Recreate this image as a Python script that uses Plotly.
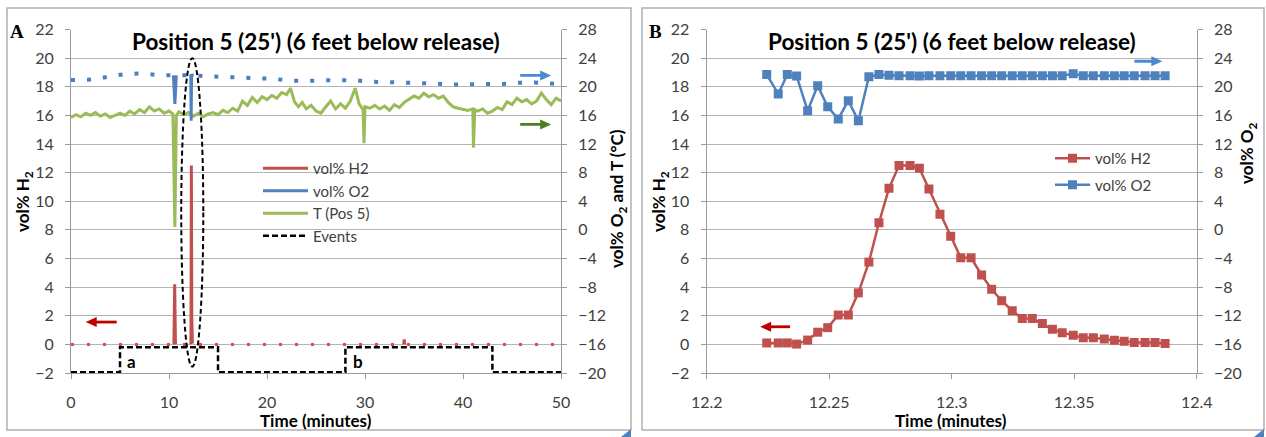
import plotly.graph_objects as go

# ---------------- Panel A data (0-50 min) ----------------
T_MIN = [0, 0.5, 1, 1.5, 2, 2.5, 3, 3.5, 4, 4.5, 5, 5.5, 6, 6.5, 7, 7.5, 8, 8.5, 9, 9.5,
         10, 10.4, 10.6, 10.75, 11, 11.5, 12, 12.5, 13, 13.5, 14, 14.5, 15, 15.5, 16, 16.5,
         17, 17.5, 18, 18.5, 19, 19.5, 20, 20.5, 21, 21.5, 22, 22.4, 22.8, 23.2, 23.6, 24,
         24.5, 25, 25.5, 26, 26.5, 27, 27.5, 28, 28.5, 29, 29.4, 29.8, 29.9, 30.0, 30.5, 31,
         31.5, 32, 32.5, 33, 33.5, 34, 34.5, 35, 35.5, 36, 36.5, 37, 37.5, 38, 38.5, 39, 39.5,
         40, 40.5, 41.0, 41.07, 41.2, 41.5, 42, 42.5, 43, 43.5, 44, 44.5, 45, 45.5, 46, 46.5,
         47, 47.5, 48, 48.5, 49, 49.5, 50]
T_C = [15.7, 16.1, 15.8, 16.3, 16.0, 16.4, 15.9, 16.2, 15.7, 16.0, 16.3, 16.0, 16.6, 16.2, 16.8,
       16.4, 17.2, 16.6, 16.9, 16.3, 16.6, 16.2, 0.4, 16.0, 16.5, 16.1, 16.4, 15.9, 16.3, 15.8,
       16.2, 16.4, 16.1, 16.7, 16.4, 17.0, 16.6, 18.0, 17.4, 18.5, 17.8, 18.6, 18.2, 18.8, 18.4,
       19.2, 18.9, 19.8, 17.9, 17.2, 17.8, 16.9, 17.4, 16.6, 16.3, 17.2, 18.0, 16.9, 17.6, 17.0,
       18.0, 19.8, 17.6, 16.8, 12.1, 17.2, 17.0, 17.4, 16.9, 17.3, 16.7, 17.5, 17.1, 17.8, 18.3,
       18.7, 18.4, 19.1, 18.6, 18.9, 18.4, 18.7, 17.8, 17.2, 17.0, 16.8, 16.7, 16.9, 11.5, 16.8,
       16.6, 16.9, 16.3, 16.6, 17.1, 16.8, 17.9, 17.5, 18.4, 17.9, 18.2, 17.6, 18.0, 19.1, 18.2,
       17.5, 18.4, 18.0]

O2_MIN = [0, 0.7, 2.25, 4.0, 5.6, 7.3, 9.0, 10.3, 12.0, 14.0, 15.6, 17.4, 19.0, 20.7, 22.3,
          24.0, 25.8, 27.4, 29.0, 30.6, 32.4, 34.0, 35.7, 37.3, 39.0, 40.7, 42.3, 44.0, 45.7,
          47.3, 49.0, 50]
O2_PCT = [20.95, 20.98, 21.0, 21.45, 21.8, 21.85, 21.6, 21.6, 21.6, 21.45, 21.35, 21.25, 21.2,
          21.1, 20.85, 20.8, 20.9, 20.95, 20.9, 20.7, 20.65, 20.6, 20.5, 20.45, 20.3, 20.3,
          20.4, 20.4, 20.55, 20.6, 20.45, 20.3]

H2_BASE_MIN = [0, 50]
H2_BASE_PCT = [0, 0]

H2_SPIKE1_MIN = [10.5, 10.58, 10.66]
H2_SPIKE1_PCT = [0, 4.2, 0]
H2_SPIKE3_MIN = [33.95, 34.0, 34.05]
H2_SPIKE3_PCT = [0, 0.35, 0]

O2_SPIKE1_MIN = [10.45, 10.6, 10.75]
O2_SPIKE1_PCT = [21.6, 17.6, 21.6]

EVENT_MIN = [0, 5, 5, 15, 15, 28, 28, 43, 43, 50]
EVENT_LEVEL = [-1.95, -1.95, -0.2, -0.2, -1.95, -1.95, -0.2, -0.2, -1.95, -1.95]

# ---------------- Panel B data (12.2-12.4 min) ----------------
B_MIN = [12.2245, 12.2292, 12.2329, 12.2367, 12.2412, 12.2453, 12.2494, 12.2537, 12.2578,
         12.2619, 12.2662, 12.2703, 12.2744, 12.2785, 12.2830, 12.2868, 12.2907, 12.2952,
         12.2996, 12.3037, 12.3079, 12.3122, 12.3163, 12.3204, 12.3247, 12.3288, 12.3329,
         12.3370, 12.3411, 12.3451, 12.3496, 12.3537, 12.3578, 12.3623, 12.3664, 12.3704,
         12.3745, 12.3789, 12.3830, 12.3871]
B_H2 = [0.10, 0.10, 0.10, 0.02, 0.30, 0.85, 1.17, 2.05, 2.05, 3.6, 5.75, 8.5, 10.9, 12.5, 12.5,
        12.3, 10.85, 9.1, 7.55, 6.05, 6.05, 4.85, 3.85, 3.05, 2.35, 1.8, 1.8, 1.45, 1.05, 0.82,
        0.63, 0.46, 0.46, 0.37, 0.28, 0.21, 0.13, 0.13, 0.13, 0.06]
B_O2 = [21.7, 19.0, 21.7, 21.5, 16.66, 20.15, 17.2, 15.5, 18.05, 15.26, 21.4, 21.7,
        21.6, 21.55, 21.55, 21.5, 21.55, 21.55, 21.55, 21.55, 21.55, 21.55, 21.55, 21.55,
        21.55, 21.55, 21.55, 21.55, 21.55, 21.55, 21.8, 21.55, 21.55, 21.55, 21.55, 21.55,
        21.55, 21.55, 21.55, 21.55]

X_A_TICKS = [0, 10, 20, 30, 40, 50]
X_B_TICKVALS = [12.2, 12.25, 12.3, 12.35, 12.4]
X_B_TICKTEXT = ["12.2", "12.25", "12.3", "12.35", "12.4"]

TITLE = "Position 5 (25') (6 feet below release)"

# ---------------- styling ----------------
W, H = 1266, 437
RED = "#c0504d"
BLUE = "#4f81bd"
GREEN = "#9bbb59"
FONT = "Lato"
TICKC = "#404040"
GRID = "#b4b4b4"
AXL = "#9a9a9a"


def px(x):
    return x / W


def py(y):
    return 1 - y / H


Y_DOM = [py(373), py(29.5)]

fig = go.Figure()

# Panel A traces
fig.add_trace(go.Scatter(x=H2_BASE_MIN, y=H2_BASE_PCT, mode="lines", xaxis="x", yaxis="y",
                         line=dict(color="#d0504d", width=3, dash="3px,13px"), showlegend=False,
                         hoverinfo="skip"))
fig.add_trace(go.Scatter(x=O2_MIN, y=O2_PCT, mode="lines", xaxis="x", yaxis="y2",
                         line=dict(color="#4a7fc1", width=4, dash="4px,12px"), showlegend=False))
fig.add_trace(go.Scatter(x=T_MIN, y=T_C, mode="lines", xaxis="x", yaxis="y2",
                         name="T (Pos 5)", line=dict(color=GREEN, width=3), legend="legend",
                         legendrank=3))
fig.add_trace(go.Scatter(x=O2_SPIKE1_MIN + [None] + B_MIN, y=O2_SPIKE1_PCT + [None] + B_O2,
                         mode="lines", xaxis="x", yaxis="y2", name="vol% O2",
                         line=dict(color=BLUE, width=3), legend="legend", legendrank=2))
fig.add_trace(go.Scatter(x=H2_SPIKE1_MIN + [None] + B_MIN + [None] + H2_SPIKE3_MIN,
                         y=H2_SPIKE1_PCT + [None] + B_H2 + [None] + H2_SPIKE3_PCT,
                         mode="lines", xaxis="x", yaxis="y", name="vol% H2",
                         line=dict(color=RED, width=3), legend="legend", legendrank=1))
fig.add_trace(go.Scatter(x=EVENT_MIN, y=EVENT_LEVEL, mode="lines", xaxis="x", yaxis="y",
                         name="Events", line=dict(color="black", width=2.5, dash="6px,3px"),
                         legend="legend", legendrank=4))

# Panel B traces
fig.add_trace(go.Scatter(x=B_MIN, y=B_H2, mode="lines+markers", xaxis="x2", yaxis="y3",
                         name="vol% H2", line=dict(color=RED, width=2.5),
                         marker=dict(symbol="square", size=9, color=RED),
                         legend="legend2", legendgroup="h2b"))
fig.add_trace(go.Scatter(x=B_MIN, y=B_O2, mode="lines+markers", xaxis="x2", yaxis="y4",
                         name="vol% O2", line=dict(color=BLUE, width=2.5),
                         marker=dict(symbol="square", size=9, color=BLUE),
                         legend="legend2", legendgroup="o2b"))

tickfont = dict(family=FONT, size=16, color=TICKC)
common_y = dict(domain=Y_DOM, showline=True, linecolor=AXL, linewidth=1.2, ticks="outside",
                ticklen=5, tickcolor=AXL, tickfont=tickfont, zeroline=False,
                ticklabelstandoff=8)
common_x = dict(showline=True, linecolor=AXL, linewidth=1.2, ticks="outside", ticklen=5,
                tickcolor=AXL, tickfont=tickfont, showgrid=False, zeroline=False,
                ticklabelstandoff=10)

fig.update_layout(
    width=W, height=H,
    margin=dict(l=0, r=0, t=0, b=0, autoexpand=False),
    paper_bgcolor="white", plot_bgcolor="white",
    font=dict(family=FONT, color=TICKC),
    xaxis=dict(domain=[px(71), px(561)], anchor="y", range=[0, 50], tickvals=X_A_TICKS,
               **common_x),
    yaxis=dict(anchor="x", range=[-2, 22], dtick=2, showgrid=True, gridcolor=GRID,
               gridwidth=1.2, **common_y),
    yaxis2=dict(anchor="x", overlaying="y", side="right", range=[-20, 28], dtick=4,
                showgrid=False, **common_y),
    xaxis2=dict(domain=[px(706.7), px(1196.7)], anchor="y3", range=[12.2, 12.4],
                tickvals=X_B_TICKVALS, ticktext=X_B_TICKTEXT, **common_x),
    yaxis3=dict(anchor="x2", range=[-2, 22], dtick=2, showgrid=True, gridcolor=GRID,
                gridwidth=1.2, **common_y),
    yaxis4=dict(anchor="x2", overlaying="y3", side="right", range=[-20, 28], dtick=4,
                showgrid=False, **common_y),
    legend=dict(x=px(258), y=py(152), xanchor="left", yanchor="top", bgcolor="rgba(0,0,0,0)",
                font=dict(family=FONT, size=15, color=TICKC), itemwidth=45,
                traceorder="normal"),
    legend2=dict(x=px(1050), y=py(142), xanchor="left", yanchor="top",
                 bgcolor="rgba(0,0,0,0)", font=dict(family=FONT, size=15, color=TICKC),
                 itemwidth=35, tracegroupgap=4),
    showlegend=True,
)

shapes = []
# panel frames
for x0, x1 in [(7, 631), (642, 1264)]:
    shapes.append(dict(type="rect", xref="paper", yref="paper", x0=px(x0), x1=px(x1),
                       y0=py(430), y1=py(8), line=dict(color="#b0b0b0", width=1.5)))
# corner marks
for xr in [631, 1264]:
    shapes.append(dict(type="path", xref="paper", yref="paper",
                       path=f"M {px(xr-10)},{py(437)} L {px(xr)},{py(429)} L {px(xr)},{py(437)} Z",
                       fillcolor="#4f81bd", line=dict(width=0)))
# event ellipse
shapes.append(dict(type="circle", xref="x", yref="y", x0=11.25, x1=13.5, y0=-1.56, y1=20.0,
                   line=dict(color="black", width=2, dash="5px,3px")))


# axis-direction arrows (pixel-sized shapes anchored at a data point = arrow head)
def arrow(x_head, yv, xref, yref, direction, color, length=31):
    s = 1 if direction == "right" else -1
    shapes.append(dict(type="line", xref=xref, yref=yref, xsizemode="pixel",
                       ysizemode="pixel", xanchor=x_head, yanchor=yv,
                       x0=-s * 8, x1=-s * length, y0=0, y1=0,
                       line=dict(color=color, width=2.8)))
    shapes.append(dict(type="path", xref=xref, yref=yref, xsizemode="pixel",
                       ysizemode="pixel", xanchor=x_head, yanchor=yv,
                       path=f"M 0,0 L {-s * 11},5 L {-s * 11},-5 Z",
                       fillcolor=color, line=dict(width=0)))


arrow(1.5, 1.56, "x", "y", "left", "#c00000")
arrow(49.0, 21.58, "x", "y2", "right", "#4a8ad0")
arrow(49.0, 14.74, "x", "y2", "right", "#4e7d24")
arrow(12.2218, 1.23, "x2", "y3", "left", "#c00000", length=30)
arrow(12.386, 23.56, "x2", "y4", "right", "#4a8ad0", length=28)

fig.update_layout(shapes=shapes)

ann = []
def label(text, x, y, size, angle=0, family=FONT, color="black"):
    ann.append(dict(text=text, x=px(x), y=py(y), xref="paper", yref="paper", showarrow=False,
                    textangle=angle, font=dict(family=family, size=size, color=color),
                    xanchor="center", yanchor="middle"))

label("<b>A</b>", 17, 32, 19, family="Liberation Serif")
label("<b>B</b>", 656, 32, 19, family="Liberation Serif")
label(f"<b>{TITLE}</b>", 316, 41, 22.5)
label(f"<b>{TITLE}</b>", 952, 41, 22.5)
label("<b>vol% H<sub>2</sub></b>", 24, 202, 17, angle=-90)
label("<b>vol% O<sub>2</sub> and T (°C)</b>", 618, 199, 17, angle=-90)
label("<b>vol% H<sub>2</sub></b>", 660, 202, 17, angle=-90)
label("<b>vol% O<sub>2</sub></b>", 1248, 153, 17, angle=-90)
label("<b>Time (minutes)</b>", 316, 420, 17)
label("<b>Time (minutes)</b>", 951, 420, 17)

# 'a' and 'b' event labels
for t, txt in [(6.13, "a"), (29.3, "b")]:
    ann.append(dict(text=f"<b>{txt}</b>", x=t, y=-1.2, xref="x", yref="y", showarrow=False,
                    font=dict(family=FONT, size=17, color="black")))

fig.update_layout(annotations=ann)
fig.write_html("out.html", config={"displayModeBar": False},
               post_script="document.body.style.margin='0px';")
